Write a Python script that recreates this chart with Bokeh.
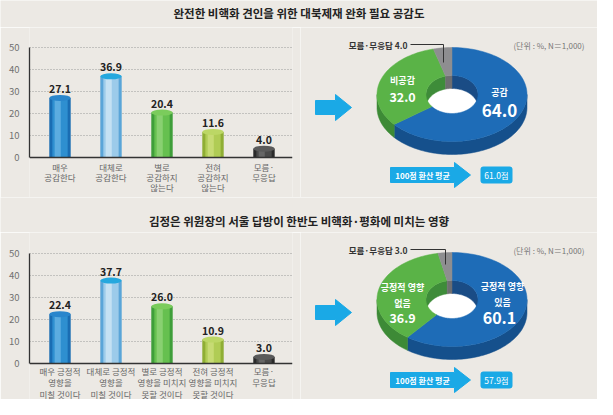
import numpy as np
from bokeh.plotting import figure
from bokeh.models import ColumnDataSource, LabelSet, Span, Range1d, FixedTicker
from bokeh.layouts import column, row
from bokeh.transform import dodge
from bokeh.embed import file_html
from bokeh.resources import INLINE
from bokeh.core.properties import value

# ---------------- data ----------------
title1 = "완전한 비핵화 견인을 위한 대북제재 완화 필요 공감도"
cats1 = ["매우\n공감한다", "대체로\n공감한다", "별로\n공감하지\n않는다", "전혀\n공감하지\n않는다", "모름·\n무응답"]
vals1 = [27.1, 36.9, 20.4, 11.6, 4.0]
pie_labels1 = ["공감", "비공감", "모름·무응답"]
pie_vals1 = [64.0, 32.0, 4.0]
avg1 = "61.0점"

title2 = "김정은 위원장의 서울 답방이 한반도 비핵화·평화에 미치는 영향"
cats2 = ["매우 긍정적\n영향을\n미칠 것이다", "대체로 긍정적\n영향을\n미칠 것이다",
         "별로 긍정적\n영향을 미치지\n못할 것이다", "전혀 긍정적\n영향을 미치지\n못할 것이다", "모름·\n무응답"]
vals2 = [22.4, 37.7, 26.0, 10.9, 3.0]
pie_labels2 = ["긍정적 영향\n있음", "긍정적 영향\n없음", "모름·무응답"]
pie_vals2 = [60.1, 36.9, 3.0]
avg2 = "57.9점"

yticks = [0, 10, 20, 30, 40, 50]
unit_note = "(단위 : %, N＝1,000)"
avg_label = "100점 환산 평균"

# ---------------- styles ----------------
FONT = "Noto Sans CJK KR"
BG = "#ECE9E4"
CYAN = "#1AA9E6"
bar_edge = ["#1a6db3", "#5aa5d8", "#3f9e3a", "#8fae34", "#2a2a2a"]
bar_mid = ["#2e8fd0", "#9ccbea", "#66c04f", "#b0cc55", "#4a4a4a"]
bar_hi = ["#6cb6e6", "#d2e8f6", "#95d67c", "#cfe07f", "#707070"]
bar_cap = ["#2a86cc", "#25a8de", "#7bcc5c", "#bcd765", "#5a5a5a"]
pie_top = ["#1E6CB7", "#5AB347", "#8E8E90"]
pie_side = ["#15508C", "#3D8A36", "#6A6A6C"]
pie_inner = ["#1A4C85", "#3E8C39", "#6E6E70"]

PX_PER_UNIT = 2.2  # 50 units over 110 px


def base_fig(w, h, **kw):
    p = figure(width=w, height=h, output_backend="svg", toolbar_location=None,
               background_fill_color=BG, border_fill_color=BG, outline_line_color=None, **kw)
    return p


def title_fig(text, h, ty):
    p = base_fig(597, h, x_range=Range1d(0, 597), y_range=Range1d(h, 0),
                 x_axis_type=None, y_axis_type=None, min_border=0)
    p.text(x=[298.5], y=[ty], text=[text], text_align="center", text_baseline="middle",
           text_font=value(FONT), text_font_size="11.5px", text_font_style="bold", text_color="#222222")
    return p


def bar_fig(cats, vals, h, top_px, bot_px, line_offsets):
    yr = Range1d(-bot_px / PX_PER_UNIT, 50 + top_px / PX_PER_UNIT)
    p = base_fig(300, h, x_range=Range1d(-0.598, 4.559), y_range=yr,
                 x_axis_type=None, min_border_left=29, min_border_right=8,
                 min_border_top=0, min_border_bottom=0)
    lines = [c.split("\n") for c in cats]
    data = dict(x=list(range(len(vals))), top=vals, base=[0] * len(vals),
                vlabel=[f"{v:.1f}" for v in vals],
                edge=bar_edge, mid=bar_mid, hi=bar_hi, cap=bar_cap)
    for k in range(3):
        data[f"l{k}"] = [ls[k] if k < len(ls) else "" for ls in lines]
    src = ColumnDataSource(data)
    p.yaxis.ticker = FixedTicker(ticks=yticks)
    p.yaxis.bounds = (0, 50)
    p.yaxis.axis_line_color = "#333333"
    p.yaxis.axis_line_width = 1.3
    p.yaxis.major_tick_line_color = None
    p.yaxis.minor_tick_line_color = None
    p.yaxis.major_label_standoff = 4
    p.yaxis.major_label_text_font = FONT
    p.yaxis.major_label_text_font_size = "9.5px"
    p.yaxis.major_label_text_color = "#707070"
    p.ygrid.ticker = FixedTicker(ticks=yticks[1:])
    p.ygrid.grid_line_color = "#9a9a9a"
    p.ygrid.grid_line_dash = "1 2"
    p.xgrid.visible = False
    p.add_layout(Span(location=0, dimension="width", line_color="#333333", line_width=1.3))

    p.vbar(x="x", top="top", width=0.42, source=src, fill_color="edge", line_color=None)
    p.vbar(x="x", top="top", width=0.30, source=src, fill_color="mid", line_color=None)
    p.vbar(x=dodge("x", -0.045, range=p.x_range), top="top", width=0.12, source=src,
           fill_color="hi", fill_alpha=0.75, line_color=None)
    p.ellipse(x="x", y="top", width=0.42, height=6, height_units="screen", source=src,
              fill_color="cap", line_color=None)

    p.add_layout(LabelSet(x="x", y="top", text="vlabel", source=src, y_offset=5,
                          text_align="center", text_baseline="bottom", text_font=value(FONT),
                          text_font_size="10.5px", text_font_style="bold", text_color="#222222"))
    for k, off in enumerate(line_offsets):
        p.add_layout(LabelSet(x="x", y="base", text=f"l{k}", source=src, y_offset=-off,
                              text_align="center", text_baseline="middle", text_font=value(FONT),
                              text_font_size="8.5px", text_color="#666666"))
    return p


def arc(cx, cy, rx, ry, a0, a1):
    n = max(2, int(abs(a1 - a0) / 2) + 2)
    t = np.radians(np.linspace(a0, a1, n))
    return list(cx + rx * np.sin(t)), list(cy - ry * np.cos(t))


def donut_fig(pvals, plabels, avg, h, lbl_pos, leader):
    p = base_fig(297, h, x_range=Range1d(0, 297), y_range=Range1d(h, 0),
                 x_axis_type=None, y_axis_type=None, min_border=0)
    CX, CY, RX, RY, IRX, IRY, D = 151.5, 67, 75, 47, 26, 19, 13
    bounds = np.concatenate([[0], np.cumsum(pvals) / 100.0 * 360.0])
    bounds[-1] = 360.0

    # outer side walls (front half)
    xs, ys, cs = [], [], []
    for i in range(len(pvals)):
        lo, hi = max(bounds[i], 90), min(bounds[i + 1], 270)
        if hi > lo:
            ax, ay = arc(CX, CY, RX, RY, lo, hi)
            xs.append(ax + ax[::-1]); ys.append(ay + [v + D for v in ay[::-1]]); cs.append(pie_side[i])
    p.patches(xs=xs, ys=ys, fill_color=cs, line_color=cs, line_width=0.5)

    # hole
    hx, hy = arc(CX, CY, IRX, IRY, 0, 360)
    p.patch(hx, hy, fill_color="white", line_color="white")

    # inner walls (back half of hole)
    xs, ys, cs = [], [], []
    for i in range(len(pvals)):
        for (wlo, whi) in [(0, 90), (270, 360)]:
            lo, hi = max(bounds[i], wlo), min(bounds[i + 1], whi)
            if hi > lo:
                ax, ay = arc(CX, CY, IRX, IRY, lo, hi)
                xs.append(ax + ax[::-1]); ys.append(ay + [v + D for v in ay[::-1]]); cs.append(pie_inner[i])
    p.patches(xs=xs, ys=ys, fill_color=cs, line_color=cs, line_width=0.5)

    # top faces
    xs, ys, cs = [], [], []
    for i in range(len(pvals)):
        ox, oy = arc(CX, CY, RX, RY, bounds[i], bounds[i + 1])
        ix, iy = arc(CX, CY, IRX, IRY, bounds[i + 1], bounds[i])
        xs.append(ox + ix); ys.append(oy + iy); cs.append(pie_top[i])
    p.patches(xs=xs, ys=ys, fill_color=cs, line_color=cs, line_width=0.5)

    # slice labels
    (nx, ny, vx, vy, vs), (nx2, ny2, vx2, vy2, vs2) = lbl_pos
    p.text(x=[nx, nx2], y=[ny, ny2], text=[plabels[0], plabels[1]], text_align="center",
           text_baseline="middle", text_font=value(FONT), text_font_size="9px",
           text_font_style="bold", text_color="white", text_line_height=1.25)
    p.text(x=[vx], y=[vy], text=[f"{pvals[0]:.1f}"], text_align="center", text_baseline="middle",
           text_font=value(FONT), text_font_size=vs, text_font_style="bold", text_color="white")
    p.text(x=[vx2], y=[vy2], text=[f"{pvals[1]:.1f}"], text_align="center", text_baseline="middle",
           text_font=value(FONT), text_font_size=vs2, text_font_style="bold", text_color="white")

    # leader for small slice
    lx0, ly, lx1, ly1 = leader
    p.line(x=[lx0, lx1, lx1], y=[ly, ly, ly1], line_color="#333333", line_width=1)
    p.text(x=[lx0 - 3], y=[ly], text=[f"{plabels[2]} {pvals[2]:.1f}"], text_align="right",
           text_baseline="middle", text_font=value(FONT), text_font_size="8.5px",
           text_font_style="bold", text_color="#333333")

    # unit note
    p.text(x=[284], y=[18], text=[unit_note], text_align="right", text_baseline="middle",
           text_font=value(FONT), text_font_size="8px", text_color="#777777")

    # left arrow
    p.patch([15, 35, 35, 51, 35, 35, 15], [73, 73, 67, 80, 93, 87, 87], fill_color=CYAN, line_color=CYAN)

    # average banner
    p.patch([90, 154, 154, 170, 154, 154, 90], [140, 140, 135, 147.5, 160, 155, 155],
            fill_color=CYAN, line_color=CYAN)
    p.text(x=[122], y=[147.5], text=[avg_label], text_align="center", text_baseline="middle",
           text_font=value(FONT), text_font_size="8px", text_font_style="bold", text_color="white")
    p.quad(left=[180], right=[212], top=[139], bottom=[156], fill_color=CYAN, line_color=None,
           border_radius=3)
    p.text(x=[196], y=[147.5], text=[avg], text_align="center", text_baseline="middle",
           text_font=value(FONT), text_font_size="8.5px", text_color="white")
    return p


t1 = title_fig(title1, 27, 12)
b1 = bar_fig(cats1, vals1, 170, 20, 40, (9, 19, 29))
d1 = donut_fig(pie_vals1, pie_labels1, avg1, 170,
               ((199, 65, 199, 83, "17px"), (102, 53, 102, 69, "12.5px")),
               (110, 17, 143, 35))
t2 = title_fig(title2, 35, 23)
b2 = bar_fig(cats2, vals2, 167, 21, 36, (7, 18.5, 30))
d2 = donut_fig(pie_vals2, pie_labels2, avg2, 167,
               ((202, 62, 199, 85, "16px"), (102, 63, 102, 85, "12.5px")),
               (110, 17, 145, 32))

layout = column(t1, row(b1, d1), t2, row(b2, d2))
open("out.html", "w").write(file_html(layout, INLINE))
